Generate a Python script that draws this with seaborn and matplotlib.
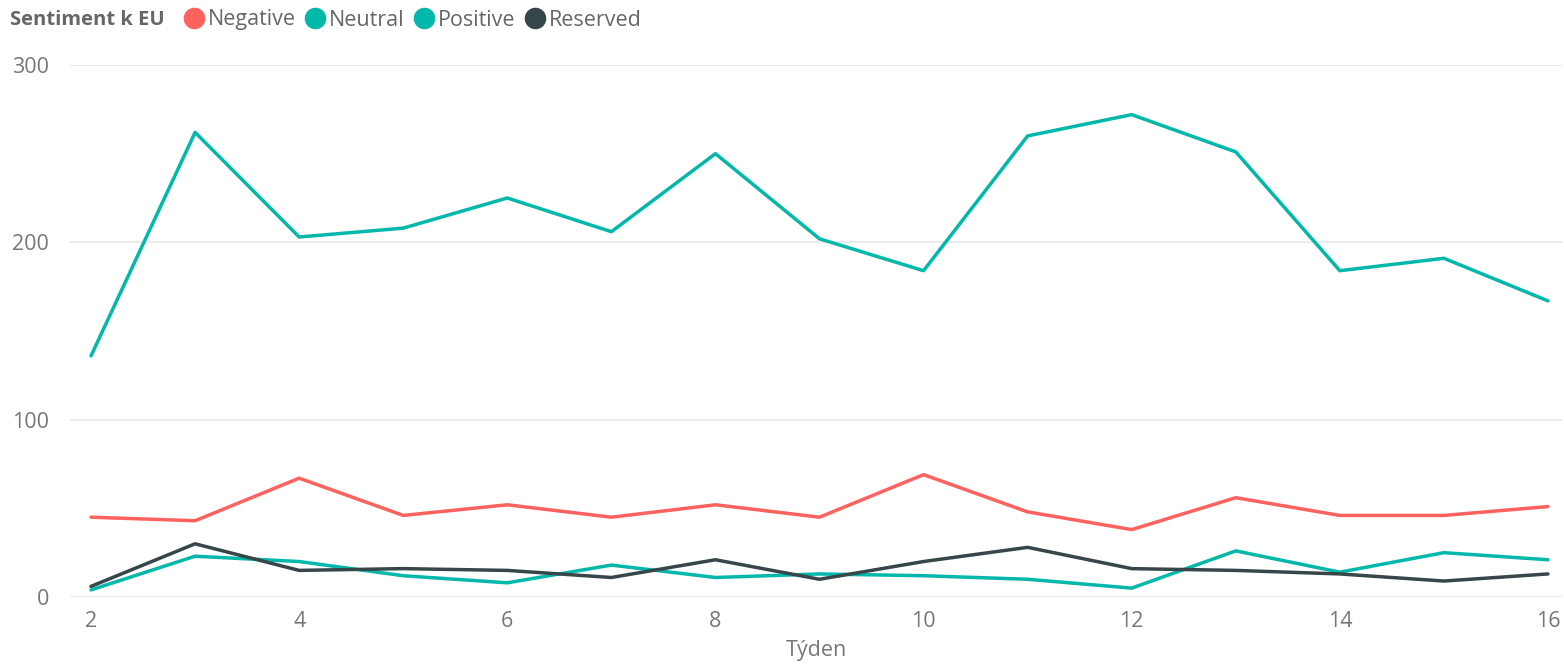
import pandas as pd
import matplotlib.pyplot as plt
import seaborn as sns
from matplotlib.lines import Line2D

weeks = list(range(2, 17))
negative = [45, 43, 67, 46, 52, 45, 52, 45, 69, 48, 38, 56, 46, 46, 51]
neutral = [136, 262, 203, 208, 225, 206, 250, 202, 184, 260, 272, 251, 184, 191, 167]
positive = [4, 23, 20, 12, 8, 18, 11, 13, 12, 10, 5, 26, 14, 25, 21]
reserved = [6, 30, 15, 16, 15, 11, 21, 10, 20, 28, 16, 15, 13, 9, 13]

series = ['Negative', 'Neutral', 'Positive', 'Reserved']
colors = {'Negative': '#FD625E', 'Neutral': '#01B8AA',
          'Positive': '#01B8AA', 'Reserved': '#374649'}

df = pd.DataFrame({
    'Týden': weeks * 4,
    'value': negative + neutral + positive + reserved,
    'sentiment': [s for s in series for _ in weeks],
})

sns.set_style('white')
plt.rcParams['font.family'] = ['Open Sans', 'DejaVu Sans']

fig = plt.figure(figsize=(15.64, 6.65), dpi=100)
ax = fig.add_axes([70 / 1564, 1 - 597 / 665, 1492 / 1564, 532 / 665])

sns.lineplot(data=df, x='Týden', y='value', hue='sentiment',
             palette=colors, linewidth=2.5, ax=ax, legend=False)

ax.set_xlim(1.798, 16.135)
ax.set_ylim(0, 300)
ax.set_xticks([2, 4, 6, 8, 10, 12, 14, 16])
ax.set_yticks([0, 100, 200, 300])
ax.grid(axis='y', color='#E8E8E8', linewidth=1.2)
ax.set_axisbelow(True)
for s in ax.spines.values():
    s.set_visible(False)
ax.tick_params(axis='both', length=0, labelsize=15.5, colors='#777777')
ax.tick_params(axis='y', pad=15)
ax.tick_params(axis='x', pad=10)
ax.set_ylabel('')
ax.set_xlabel('Týden', fontsize=15.5, color='#777777', labelpad=6)

# legend
fig.text(10 / 1564, 1 - 20 / 665, 'Sentiment k EU', fontsize=14.5, fontweight='bold',
         color='#666666', va='center', ha='left')
handles = [Line2D([], [], marker='o', linestyle='', markersize=14.5,
                  markerfacecolor=colors[s], markeredgecolor=colors[s]) for s in series]
fig.legend(handles, series, loc='center left', bbox_to_anchor=(183 / 1564, 1 - 20 / 665),
           ncol=4, frameon=False, fontsize=15.5, handletextpad=0.15, columnspacing=0.4,
           labelcolor='#666666', borderaxespad=0, borderpad=0, handlelength=1.0)

fig.savefig('out.png', dpi=100)
